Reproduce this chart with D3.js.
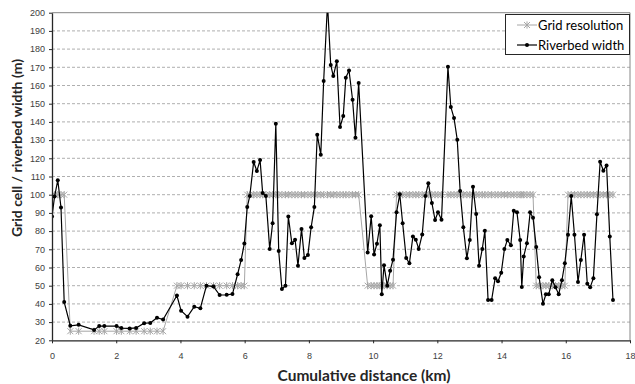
<!DOCTYPE html>
<html>
<head>
<meta charset="utf-8">
<script src="https://cdn.jsdelivr.net/npm/d3@7"></script>
<style>
  body { margin: 0; background: #fff; }
  svg { font-family: Lato, "Open Sans", sans-serif; }
</style>
</head>
<body>
<svg width="635" height="384"></svg>
<script>
const distance = [
  0.00, 0.08, 0.18, 0.28, 0.38, 0.57, 0.83, 1.31, 1.47, 1.63,
  2.01, 2.16, 2.42, 2.62, 2.87, 3.06, 3.27, 3.46, 3.89, 4.02,
  4.22, 4.43, 4.62, 4.81, 5.03, 5.22, 5.44, 5.62, 5.78, 5.89,
  5.99, 6.08, 6.16, 6.28, 6.38, 6.48, 6.56, 6.66, 6.78, 6.87,
  6.97, 7.06, 7.16, 7.27, 7.36, 7.47, 7.57, 7.66, 7.77, 7.86,
  7.97, 8.07, 8.17, 8.26, 8.37, 8.46, 8.58, 8.68, 8.76, 8.87,
  8.97, 9.07, 9.15, 9.25, 9.36, 9.45, 9.55, 9.83, 9.94, 10.03,
  10.12, 10.21, 10.27, 10.34, 10.44, 10.53, 10.62, 10.73, 10.83, 10.92,
  11.03, 11.13, 11.24, 11.33, 11.42, 11.53, 11.63, 11.72, 11.83, 11.93,
  12.02, 12.13, 12.33, 12.42, 12.52, 12.62, 12.71, 12.81, 12.92, 13.01,
  13.11, 13.21, 13.30, 13.40, 13.48, 13.58, 13.69, 13.80, 13.89, 13.99,
  14.09, 14.18, 14.29, 14.38, 14.48, 14.58, 14.63, 14.69, 14.79, 14.89,
  14.98, 15.08, 15.17, 15.29, 15.38, 15.47, 15.58, 15.68, 15.78, 15.88,
  15.97, 16.07, 16.17, 16.27, 16.38, 16.47, 16.57, 16.67, 16.76, 16.86,
  16.97, 17.07, 17.17, 17.27, 17.37, 17.47
]

const riverbedWidth = [
  88, 99, 108, 93, 41, 28, 28.5, 25.7, 27.8, 27.8,
  27.8, 26.7, 26.5, 26.8, 29.4, 29.5, 32.4, 31.4, 44.6, 36.3,
  33, 38.5, 37.6, 50, 49.5, 44.9, 45, 45.4, 56.3, 64.1,
  73.2, 93.2, 99.3, 118, 113, 119, 101, 99.3, 70.2, 84.3,
  139, 69, 48.2, 50, 88, 73.3, 75.3, 61, 81.2, 65.2,
  66.9, 82.1, 93.2, 133, 122, 162.5, 205, 171.3, 165.2, 173.3,
  137.2, 143.2, 164.3, 168.3, 152.2, 131.3, 161.4, 68.3, 88.1, 67.2,
  73.1, 83.2, 45.3, 61.2, 50, 58.2, 64.3, 90.3, 100.2, 84.3,
  65.2, 62.3, 77.1, 75.3, 70.2, 78.2, 99.3, 106.3, 95.5, 86.1,
  90.3, 86.3, 170.3, 148.2, 142.1, 130.2, 102, 82.1, 65.1, 75.1,
  104.4, 89.4, 61, 70.2, 80.2, 42.1, 42.1, 54.1, 52.4, 57.1,
  70.2, 75.1, 72.2, 91.2, 90.3, 75.1, 49.3, 66.1, 73.3, 90.3,
  87.4, 71.3, 54.6, 40.1, 45.3, 45.3, 53, 49.1, 45.3, 53,
  62.3, 78, 99.3, 78, 52, 64.1, 78, 51.1, 49.1, 54.1,
  89.2, 118.1, 113.2, 116.1, 77.1, 42.1
]

const gridResolution = [
  100, 100, 100, 100, 100, 25, 25, 25, 25, 25,
  25, 25, 25, 25, 25, 25, 25, 25, 50, 50,
  50, 50, 50, 50, 50, 50, 50, 50, 50, 50,
  50, 100, 100, 100, 100, 100, 100, 100, 100, 100,
  100, 100, 100, 100, 100, 100, 100, 100, 100, 100,
  100, 100, 100, 100, 100, 100, 100, 100, 100, 100,
  100, 100, 100, 100, 100, 100, 100, 50, 50, 50,
  50, 50, 50, 50, 50, 50, 50, 100, 100, 100,
  100, 100, 100, 100, 100, 100, 100, 100, 100, 100,
  100, 100, 100, 100, 100, 100, 100, 100, 100, 100,
  100, 100, 100, 100, 100, 100, 100, 100, 100, 100,
  100, 100, 100, 100, 100, 100, 100, 100, 100, 100,
  100, 50, 50, 50, 50, 50, 50, 50, 50, 50,
  50, 100, 100, 100, 100, 100, 100, 100, 100, 100,
  100, 100, 100, 100, 100, 100
]

const xTicks = [0, 2, 4, 6, 8, 10, 12, 14, 16, 18]
const yTicks = [20, 30, 40, 50, 60, 70, 80, 90, 100, 110, 120, 130, 140, 150, 160, 170, 180, 190, 200]
const seriesNames = ['Grid resolution', 'Riverbed width']

const margin = {top: 12.7, right: 5, bottom: 43.7, left: 52}
const width = 635
const height = 384
const gridColor = '#a6a6a6'

const x = d3.scaleLinear()
  .domain([0, 18])
  .range([margin.left, width - margin.right])

const y = d3.scaleLinear()
  .domain([20, 200])
  .range([height - margin.bottom, margin.top])

const svg = d3.select('svg')

svg.append('clipPath')
  .attr('id', 'plot-clip')
  .append('rect')
  .attr('x', margin.left)
  .attr('y', margin.top)
  .attr('width', width - margin.right - margin.left)
  .attr('height', height - margin.bottom - margin.top)

// dashed horizontal gridlines
svg.append('g')
  .selectAll('line')
  .data(yTicks.filter(d => d > 20 && d < 200))
  .join('line')
  .attr('x1', margin.left)
  .attr('x2', width - margin.right)
  .attr('y1', d => y(d))
  .attr('y2', d => y(d))
  .attr('stroke', '#9a9a9a')
  .attr('stroke-width', 0.8)
  .attr('stroke-dasharray', '3,2')

// plot border top + right
svg.append('path')
  .attr('d', `M${margin.left},${y(200)}H${x(18)}V${y(20)}`)
  .attr('fill', 'none')
  .attr('stroke', '#868686')
  .attr('stroke-width', 1)

const xAxis = g => g
  .attr('transform', `translate(0, ${height - margin.bottom})`)
  .call(d3.axisBottom(x).tickValues(xTicks).tickSize(3).tickPadding(9).tickSizeOuter(0))
  .call(g => g.selectAll('text').attr('font-size', 9).attr('fill', '#404040').attr('font-family', null))
  .call(g => g.selectAll('line, .domain').attr('stroke', '#262626'))
  .call(g => g.select('.domain').attr('stroke-width', 1.3))

const yAxis = g => g
  .attr('transform', `translate(${margin.left}, 0)`)
  .call(d3.axisLeft(y).tickValues(yTicks).tickSize(3).tickPadding(4).tickSizeOuter(0))
  .call(g => g.selectAll('text').attr('font-size', 9).attr('fill', '#404040').attr('font-family', null))
  .call(g => g.selectAll('line, .domain').attr('stroke', '#262626'))
  .call(g => g.select('.domain').attr('stroke-width', 1.3))

const rows = distance.map((d, i) => ({d, w: riverbedWidth[i], g: gridResolution[i]}))

const plot = svg.append('g').attr('clip-path', 'url(#plot-clip)')

const star = 'M-3,-3L3,3M-3,3L3,-3M0,-3.6V3.6'

// grid resolution series
plot.append('path')
  .datum(rows)
  .attr('fill', 'none')
  .attr('stroke', gridColor)
  .attr('stroke-width', 1)
  .attr('d', d3.line().x(r => x(r.d)).y(r => y(r.g)))

plot.append('g')
  .selectAll('path')
  .data(rows)
  .join('path')
  .attr('transform', r => `translate(${x(r.d)},${y(r.g)})`)
  .attr('d', star)
  .attr('stroke', gridColor)
  .attr('stroke-width', 1)
  .attr('fill', 'none')

// riverbed width series
plot.append('path')
  .datum(rows)
  .attr('fill', 'none')
  .attr('stroke', '#000')
  .attr('stroke-width', 1.2)
  .attr('d', d3.line().x(r => x(r.d)).y(r => y(r.w)))

plot.append('g')
  .selectAll('circle')
  .data(rows)
  .join('circle')
  .attr('cx', r => x(r.d))
  .attr('cy', r => y(r.w))
  .attr('r', 2)
  .attr('fill', '#000')

svg.append('g').call(xAxis)
svg.append('g').call(yAxis)

// axis titles
svg.append('text')
  .attr('x', 364)
  .attr('y', 381)
  .attr('text-anchor', 'middle')
  .attr('font-size', 15.5)
  .attr('font-weight', 'bold')
  .attr('fill', '#262626')
  .text('Cumulative distance (km)')

svg.append('text')
  .attr('transform', 'translate(22, 148) rotate(-90)')
  .attr('text-anchor', 'middle')
  .attr('font-size', 14)
  .attr('font-weight', 'bold')
  .attr('fill', '#262626')
  .text('Grid cell / riverbed width (m)')

// legend
const legend = svg.append('g')
legend.append('rect')
  .attr('x', 505.5)
  .attr('y', 14.5)
  .attr('width', 124)
  .attr('height', 40)
  .attr('fill', '#fff')
  .attr('stroke', '#262626')
  .attr('stroke-width', 1)

const entry = legend.selectAll('g.entry')
  .data(seriesNames)
  .join('g')
  .classed('entry', true)
  .attr('transform', (d, i) => `translate(517, ${25 + i * 20})`)

entry.append('line')
  .attr('x1', 0).attr('x2', 20)
  .attr('stroke', (d, i) => i === 0 ? gridColor : '#000')
  .attr('stroke-width', (d, i) => i === 0 ? 1 : 1.2)

entry.filter((d, i) => i === 0).append('path')
  .attr('transform', 'translate(10,0)')
  .attr('d', star)
  .attr('stroke', gridColor)
  .attr('fill', 'none')

entry.filter((d, i) => i === 1).append('circle')
  .attr('cx', 10)
  .attr('r', 2)
  .attr('fill', '#000')

entry.append('text')
  .attr('x', 21)
  .attr('dy', '0.35em')
  .attr('font-size', 13)
  .attr('fill', '#000')
  .text(d => d)
</script>
</body>
</html>
